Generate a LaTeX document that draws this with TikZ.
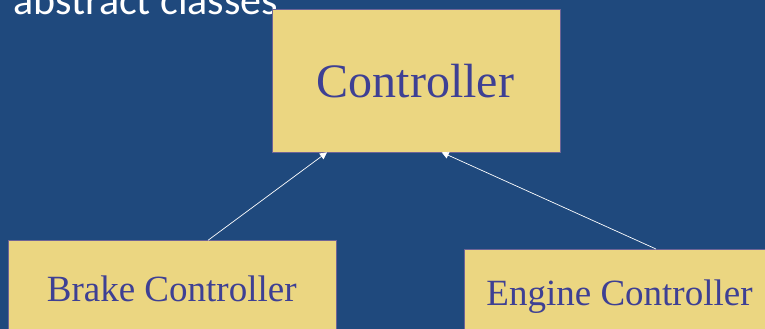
\documentclass[tikz,border=0pt]{standalone}
\usepackage{fontspec}
\setmainfont{Liberation Serif}
\newfontfamily\titlefont{Carlito}
\usetikzlibrary{arrows.meta}
\definecolor{slidebg}{RGB}{31,73,125}
\definecolor{boxfill}{RGB}{235,214,129}
\definecolor{boxtext}{RGB}{62,64,148}
\definecolor{boxedge}{RGB}{110,100,150}
\tikzset{
  classbox/.style={draw=boxedge, line width=0.6pt, fill=boxfill, inner sep=0pt, anchor=north west},
  classname/.style={text=boxtext, anchor=base, inner sep=0pt},
  inherits/.style={draw=white, line width=0.7pt, -{Triangle[width=7pt,length=7pt]}}
}
\begin{document}
\begin{tikzpicture}[x=1pt, y=-1pt]
  \clip (0,0) rectangle (765,329);
  \fill[slidebg] (0,0) rectangle (765,329);
  % heading (runs off the top edge, partly under the Controller box)
  \node[anchor=base west, inner sep=0pt, text=white, font=\titlefont\fontsize{42}{42}\selectfont] (heading) at (13,15) {abstract classes};
  % class boxes
  \node[classbox, minimum width=287.7pt, minimum height=143pt] (ctrl) at (272.3,8.7) {};
  \node[classbox, minimum width=327.4pt, minimum height=120pt] (brake) at (8.3,240.3) {};
  \node[classbox, minimum width=320pt, minimum height=110pt] (engine) at (464.3,249) {};
  % class names
  \node[classname, font=\fontsize{48}{48}\selectfont] (ctrltext) at (415.5,97) {Controller};
  \node[classname, font=\fontsize{37}{37}\selectfont] (braketext) at (171.7,301) {Brake Controller};
  \node[classname, font=\fontsize{37}{37}\selectfont] (enginetext) at (619.5,305) {Engine Controller};
  % inheritance arrows
  \draw[inherits] ([xshift=199.7pt]brake.north west) -- ([xshift=54.7pt]ctrl.south west);
  \draw[inherits] ([xshift=191.7pt]engine.north west) -- ([xshift=169.4pt]ctrl.south west);
\end{tikzpicture}
\end{document}
